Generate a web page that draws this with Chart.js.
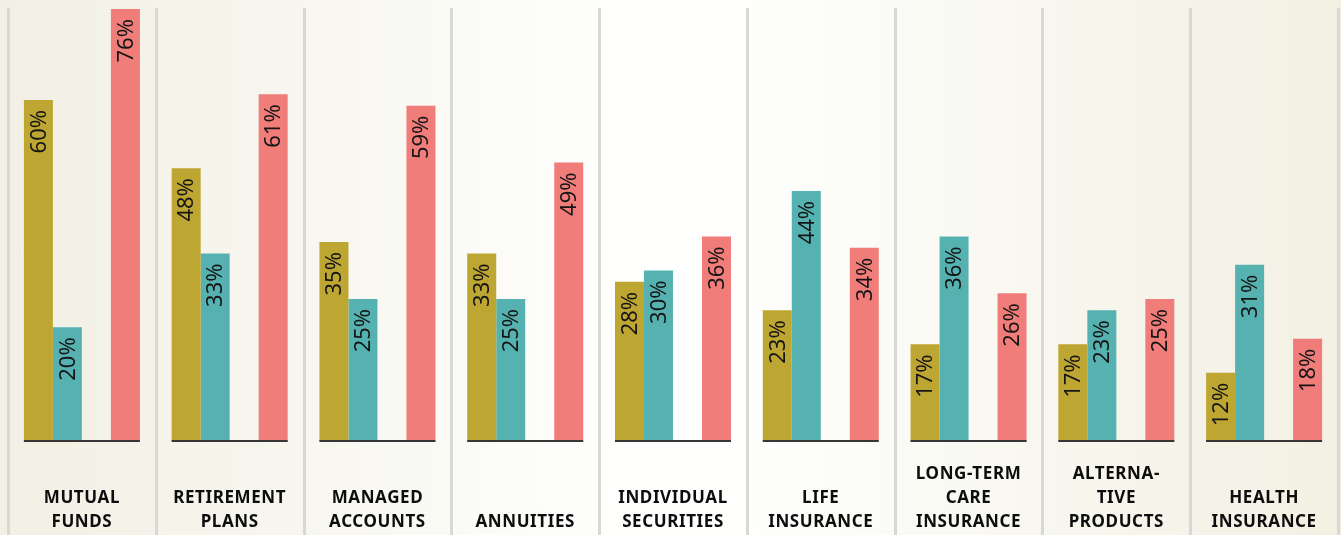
<!DOCTYPE html>
<html>
<head>
<meta charset="utf-8">
<script src="https://cdn.jsdelivr.net/npm/chart.js@4.4.0/dist/chart.umd.min.js"></script>
<style>
    html, body { margin: 0; padding: 0; }
    body {
        width: 1341px;
        height: 535px;
        overflow: hidden;
        background: linear-gradient(to right, #f2f0e4 0%, #f8f7f0 25%, #fefefd 45%, #fefefd 56%, #f8f7ef 78%, #f3f0e3 100%);
    }
    #wrap { position: relative; width: 1341px; height: 535px; }
</style>
</head>
<body>
<div id="wrap"><canvas id="chart"></canvas></div>
<script>
// Category labels (line-broken as in the picture; blank lines keep them bottom-aligned)
const categories = [
    ['', 'MUTUAL', 'FUNDS'],
    ['', 'RETIREMENT', 'PLANS'],
    ['', 'MANAGED', 'ACCOUNTS'],
    ['', '', 'ANNUITIES'],
    ['', 'INDIVIDUAL', 'SECURITIES'],
    ['', 'LIFE', 'INSURANCE'],
    ['LONG-TERM', 'CARE', 'INSURANCE'],
    ['ALTERNA-', 'TIVE', 'PRODUCTS'],
    ['', 'HEALTH', 'INSURANCE']
];

// Series values (percent)
const goldValues = [60, 48, 35, 33, 28, 23, 17, 17, 12];
const tealValues = [20, 33, 25, 25, 30, 44, 36, 23, 31];
const emptySlot = [null, null, null, null, null, null, null, null, null];
const pinkValues = [76, 61, 59, 49, 36, 34, 26, 25, 18];

const GOLD = '#bea633';
const TEAL = '#56b2b0';
const PINK = '#f07d79';

// --- Plugins ---
// column separators drawn between categories, from top of plot to bottom of canvas
const separators = {
    id: 'separators',
    beforeDatasetsDraw(chart) {
        const { ctx, scales: { x }, chartArea } = chart;
        ctx.save();
        ctx.letterSpacing = '0px';
        ctx.strokeStyle = '#d8d8d6';
        ctx.lineWidth = 3;
        for (let i = 0; i <= categories.length; i++) {
            const px = Math.round(x.getPixelForValue(i - 0.5)) + 0.5;
            ctx.beginPath();
            ctx.moveTo(px, chartArea.top);
            ctx.lineTo(px, chart.height);
            ctx.stroke();
        }
        ctx.restore();
    }
};

// letter spacing for the category labels only
const spacing = {
    id: 'spacing',
    beforeDraw(chart) { chart.ctx.letterSpacing = '0.6px'; },
    beforeDatasetsDraw(chart) { chart.ctx.letterSpacing = '0px'; }
};

// baseline under each group and rotated value labels
const annotate = {
    id: 'annotate',
    afterDatasetsDraw(chart) {
        const { ctx, scales: { y } } = chart;
        const y0 = y.getPixelForValue(0);
        const first = chart.getDatasetMeta(0).data;
        const last = chart.getDatasetMeta(3).data;
        ctx.save();
        ctx.letterSpacing = '0px';
        ctx.strokeStyle = '#363636';
        ctx.lineWidth = 2;
        first.forEach((bar, i) => {
            const l = bar.x - bar.width / 2;
            const r = last[i].x + last[i].width / 2;
            ctx.beginPath();
            ctx.moveTo(l, y0);
            ctx.lineTo(r, y0);
            ctx.stroke();
        });

        ctx.fillStyle = '#151515';
        ctx.font = '22px "Noto Sans", sans-serif';
        ctx.textAlign = 'right';
        ctx.textBaseline = 'middle';
        [0, 1, 3].forEach(di => {
            const ds = chart.data.datasets[di];
            chart.getDatasetMeta(di).data.forEach((bar, i) => {
                const v = ds.data[i];
                if (v == null) return;
                ctx.save();
                ctx.translate(bar.x + 1, bar.y + 10);
                ctx.rotate(-Math.PI / 2);
                ctx.fillText(v + '%', 0, 0);
                ctx.restore();
            });
        });
        ctx.restore();
    }
};

const chart = new Chart(document.getElementById('chart'), {
    type: 'bar',
    data: {
        labels: categories,
        datasets: [
            { data: goldValues, backgroundColor: GOLD },
            { data: tealValues, backgroundColor: TEAL },
            { data: emptySlot, backgroundColor: 'rgba(0,0,0,0)' },
            { data: pinkValues, backgroundColor: PINK }
        ]
    },
    options: {
        responsive: true,
        maintainAspectRatio: false,
        animation: false,
        events: [],
        datasets: {
            bar: { categoryPercentage: 0.785, barPercentage: 1.0, borderWidth: 0 }
        },
        layout: { padding: { top: 8, left: 8, right: 3, bottom: 0 } },
        plugins: {
            legend: { display: false },
            tooltip: { enabled: false }
        },
        scales: {
            x: {
                grid: { display: false, drawTicks: false },
                border: { display: false },
                ticks: {
                    autoSkip: false,
                    maxRotation: 0,
                    padding: 21,
                    color: '#0d0d0d',
                    font: { family: '"Noto Sans", sans-serif', size: 17, weight: 'bold', lineHeight: 24 / 17 }
                },
                afterFit(scale) { scale.height = 94; }
            },
            y: {
                display: false,
                min: 0,
                max: 76.18
            }
        }
    },
    plugins: [spacing, separators, annotate]
});
</script>
</body>
</html>
